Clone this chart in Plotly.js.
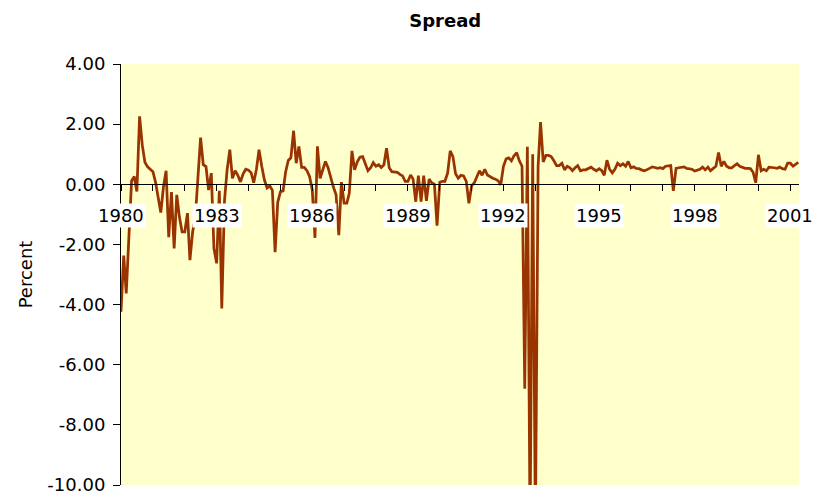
<!DOCTYPE html>
<html>
<head>
<meta charset="utf-8">
<script src="https://cdn.plot.ly/plotly-3.0.1.min.js"></script>
<style>
  html, body { margin: 0; padding: 0; background: #ffffff; }
  #chart { width: 817px; height: 498px; }
</style>
</head>
<body>
<div id="chart"></div>
<script>
// Monthly spread (percent), January 1980 to April 2001
const startYear = 1980;
const spreadPct = [
  -4.24, -2.37, -3.63, -1.6, 0.11, 0.26, -0.24, 2.26, 1.3, 0.73, 0.58, 0.5,
  0.42, 0.05, -0.4, -0.94, -0.1, 0.45, -1.76, -0.26, -2.13, -0.35, -1.1, -1.58,
  -1.58, -0.96, -2.52, -1.58, -1.12, 0.2, 1.55, 0.65, 0.59, -0.19, 0.37, -2.13,
  -2.63, -0.22, -4.13, -0.55, 0.48, 1.15, 0.2, 0.45, 0.3, 0.08, 0.35, 0.5,
  0.47, 0.38, 0.05, 0.5, 1.15, 0.6, 0.15, -0.12, -0.05, -0.2, -2.26, -0.6,
  -0.25, -0.22, 0.4, 0.79, 0.88, 1.78, 0.7, 1.26, 0.56, 0.56, 0.45, 0.26,
  -0.19, -1.78, 1.26, 0.2, 0.5, 0.76, 0.55, 0.2, -0.1, -0.35, -1.69, 0.07,
  -0.63, -0.63, -0.3, 1.11, 0.48, 0.75, 0.9, 0.92, 0.65, 0.45, 0.55, 0.72,
  0.6, 0.65, 0.56, 0.65, 1.2, 0.55, 0.42, 0.4, 0.4, 0.33, 0.28, 0.1,
  0.1, 0.31, 0.18, -0.58, 0.29, -0.58, 0.29, -0.55, 0.17, 0.05, 0.0, -1.38,
  0.07, 0.1, 0.1, 0.37, 1.11, 0.92, 0.35, 0.2, 0.3, 0.28, 0.1, -0.63,
  -0.05, 0.05, 0.25, 0.45, 0.3, 0.5, 0.31, 0.24, 0.2, 0.17, 0.12, -0.02,
  0.6, 0.85, 0.88, 0.78, 0.95, 1.05, 0.78, 0.6, -6.8, 1.25, -11.5, 1.0,
  -11.5, 0.6, 2.07, 0.74, 0.96, 0.96, 0.92, 0.78, 0.62, 0.62, 0.7, 0.48,
  0.6, 0.55, 0.45, 0.55, 0.62, 0.45, 0.48, 0.48, 0.52, 0.57, 0.5, 0.45,
  0.52, 0.45, 0.3, 0.8, 0.5, 0.38, 0.5, 0.7, 0.62, 0.68, 0.6, 0.76,
  0.55, 0.58, 0.53, 0.52, 0.48, 0.45, 0.48, 0.52, 0.58, 0.56, 0.53, 0.55,
  0.52, 0.6, 0.6, 0.62, -0.22, 0.53, 0.55, 0.57, 0.58, 0.53, 0.52, 0.5,
  0.44, 0.48, 0.5, 0.57, 0.48, 0.57, 0.45, 0.53, 0.6, 1.06, 0.6, 0.76,
  0.6, 0.55, 0.55, 0.62, 0.68, 0.6, 0.57, 0.53, 0.53, 0.52, 0.4, 0.05,
  0.98, 0.45, 0.5, 0.45, 0.57, 0.57, 0.55, 0.53, 0.57, 0.52, 0.5, 0.7,
  0.7, 0.6, 0.66, 0.73
];
const tickYears = [1980,1981,1982,1983,1984,1985,1986,1987,1988,1989,1990,1991,1992,1993,1994,1995,1996,1997,1998,1999,2000,2001];
const labelYears = [1980, 1983, 1986, 1989, 1992, 1995, 1998, 2001];
const yTickVals = [-10, -8, -6, -4, -2, 0, 2, 4];

const months = spreadPct.map((_, i) => {
  const y = startYear + Math.floor(i / 12);
  const m = (i % 12) + 1;
  return y + '-' + String(m).padStart(2, '0') + '-01';
});

const FONT = 'DejaVu Sans, Arial, sans-serif';

const trace = {
  type: 'scatter',
  mode: 'lines',
  x: months,
  y: spreadPct,
  line: { color: '#993300', width: 2.75 },
  hoverinfo: 'skip'
};

const layout = {
  width: 817,
  height: 498,
  margin: { l: 121, r: 18, t: 64, b: 13 },
  paper_bgcolor: '#ffffff',
  plot_bgcolor: '#FFFFCC',
  font: { family: FONT, size: 18, color: '#000000' },
  showlegend: false,
  title: {
    text: '<b>Spread</b>',
    font: { family: FONT, size: 18, color: '#000000' },
    x: 0.545, xref: 'container', xanchor: 'center',
    y: 0.958, yref: 'container', yanchor: 'middle'
  },
  xaxis: {
    type: 'date',
    range: ['1980-01-01', '2001-04-10'],
    anchor: 'free',
    position: 10 / 14,
    showline: true, linecolor: '#000000', linewidth: 1,
    ticks: 'outside', ticklen: 6, tickcolor: '#000000', tickwidth: 1,
    tickvals: tickYears.map(y => y + '-01-01'),
    showticklabels: false,
    showgrid: false, zeroline: false
  },
  yaxis: {
    range: [-10, 4],
    tickvals: yTickVals,
    ticktext: yTickVals.map(v => v.toFixed(2)),
    ticks: 'outside', ticklen: 7, tickcolor: '#000000', tickwidth: 1,
    showline: true, linecolor: '#000000', linewidth: 1,
    showgrid: false, zeroline: false,
    ticklabelstandoff: 4,
    tickfont: { family: FONT, size: 18, color: '#000000' },
    title: { text: 'Percent', font: { family: FONT, size: 18, color: '#000000' }, standoff: 10 }
  },
  annotations: labelYears.map(y => ({
    x: y + '-01-01', y: 0, xref: 'x', yref: 'y',
    yshift: -31,
    text: String(y),
    showarrow: false,
    bgcolor: '#ffffff',
    borderpad: 1,
    font: { family: FONT, size: 18, color: '#000000' }
  }))
};

Plotly.newPlot('chart', [trace], layout, { staticPlot: true, displayModeBar: false });
</script>
</body>
</html>
